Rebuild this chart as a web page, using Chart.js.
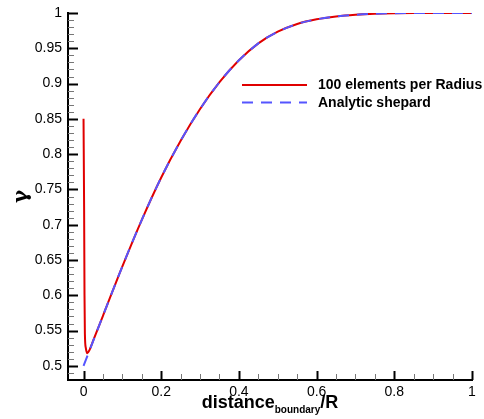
<!DOCTYPE html>
<html>
<head>
<meta charset="utf-8">
<script src="https://cdn.jsdelivr.net/npm/chart.js@4.4.0/dist/chart.umd.min.js"></script>
<style>
  html, body { margin: 0; padding: 0; background: #fff; }
  #wrap { width: 484px; height: 419px; }
</style>
</head>
<body>
<div id="wrap"><canvas id="myChart" width="484" height="419"></canvas></div>
<script>
// values
var seriesNames = ["100 elements per Radius", "Analytic shepard"];

var xValues = [0, 0.05, 0.1, 0.15, 0.2, 0.25, 0.3, 0.35, 0.4, 0.45, 0.5,
  0.55, 0.6, 0.65, 0.7, 0.75, 0.8, 0.85, 0.9, 1.0];
var analyticY = [0.500, 0.571, 0.641, 0.707, 0.767, 0.819, 0.864, 0.902, 0.933, 0.957, 0.9735,
  0.9845, 0.991, 0.995, 0.9975, 0.999, 0.9997, 1.0, 1.0, 1.0];

var redX = [0, 0.0015, 0.0025, 0.0035, 0.006, 0.0095, 0.015, 0.025, 0.05, 0.1, 0.15, 0.2, 0.25, 0.3,
  0.35, 0.4, 0.45, 0.5, 0.55, 0.6, 0.65, 0.7, 0.75, 0.8, 0.85, 0.9, 1.0];
var redY = [0.85, 0.72, 0.60, 0.545, 0.525, 0.518, 0.522, 0.536, 0.571, 0.641, 0.707, 0.767, 0.819, 0.864,
  0.902, 0.933, 0.957, 0.9735, 0.9845, 0.991, 0.995, 0.9975, 0.999, 0.9997, 1.0, 1.0, 1.0];

var xTicks = [0, 0.2, 0.4, 0.6, 0.8, 1];
var yTicks = [0.5, 0.55, 0.6, 0.65, 0.7, 0.75, 0.8, 0.85, 0.9, 0.95, 1];

var redColor = "#e00000";
var blueColor = "#5555ff";

function toPoints(xs, ys) {
  return xs.map(function (x, i) { return { x: x, y: ys[i] }; });
}

// inward major/minor ticks, legend and x title with subscript
var decorations = {
  id: "decorations",
  afterDraw: function (chart) {
    var ctx = chart.ctx;
    var xs = chart.scales.x, ys = chart.scales.y;
    var left = chart.chartArea.left, bottom = chart.chartArea.bottom;
    ctx.save();

    // y ticks
    for (var i = 49; i <= 100; i++) {
      var py = Math.round(ys.getPixelForValue(i / 100)) + 0.5;
      var major = i % 5 === 0;
      ctx.lineWidth = major ? 2 : 1;
      ctx.strokeStyle = major ? "#000" : "#777";
      ctx.beginPath();
      ctx.moveTo(left, py);
      ctx.lineTo(left + (major ? 10 : 6), py);
      ctx.stroke();
    }
    // x ticks
    for (var j = 0; j <= 20; j++) {
      var px = Math.round(xs.getPixelForValue(j / 20)) + 0.5;
      var majorX = j % 4 === 0;
      ctx.lineWidth = majorX ? 2 : 1;
      ctx.strokeStyle = majorX ? "#000" : "#777";
      ctx.beginPath();
      ctx.moveTo(px, bottom);
      ctx.lineTo(px, bottom - (majorX ? 9 : 6));
      ctx.stroke();
    }

    // legend
    var legendY = [85, 102.5];
    chart.data.datasets.forEach(function (ds) {
      var ly = legendY[ds.legendIndex];
      ctx.strokeStyle = ds.borderColor;
      ctx.lineWidth = 2;
      ctx.setLineDash(ds.borderDash || []);
      ctx.beginPath();
      ctx.moveTo(242, ly);
      ctx.lineTo(307, ly);
      ctx.stroke();
      ctx.setLineDash([]);
      ctx.fillStyle = "#000";
      ctx.font = "bold 14px 'Liberation Sans', Arial, sans-serif";
      ctx.textAlign = "left";
      ctx.textBaseline = "middle";
      ctx.fillText(ds.label, 318, ly + 0.5);
    });

    // x axis title with subscript
    var mainFont = "bold 18px 'Liberation Sans', Arial, sans-serif";
    var subFont = "bold 10px 'Liberation Sans', Arial, sans-serif";
    ctx.textBaseline = "alphabetic";
    ctx.textAlign = "left";
    ctx.font = mainFont;
    var w1 = ctx.measureText("distance").width;
    var w3 = ctx.measureText("/R").width;
    ctx.font = subFont;
    var w2 = ctx.measureText("boundary").width;
    var cx = (chart.chartArea.left + chart.chartArea.right) / 2;
    var sx = cx - (w1 + w2 + w3) / 2;
    var base = 408;
    ctx.fillStyle = "#000";
    ctx.font = mainFont;
    ctx.fillText("distance", sx, base);
    ctx.font = subFont;
    ctx.fillText("boundary", sx + w1, base + 5);
    ctx.font = mainFont;
    ctx.fillText("/R", sx + w1 + w2, base);
    ctx.restore();
  }
};

new Chart("myChart", {
  type: "line",
  data: {
    datasets: [{
      label: seriesNames[0],
      legendIndex: 0,
      data: toPoints(redX, redY),
      borderColor: redColor,
      borderWidth: 2,
      pointRadius: 0,
      cubicInterpolationMode: "monotone",
      fill: false,
      order: 1
    }, {
      label: seriesNames[1],
      legendIndex: 1,
      data: toPoints(xValues, analyticY),
      borderColor: blueColor,
      borderWidth: 2,
      borderDash: [11, 8],
      pointRadius: 0,
      cubicInterpolationMode: "monotone",
      fill: false,
      order: 0
    }]
  },
  options: {
    responsive: false,
    animation: false,
    layout: { padding: { top: 11, right: 12, left: 0, bottom: 0 } },
    plugins: {
      legend: { display: false },
      tooltip: { enabled: false }
    },
    scales: {
      x: {
        type: "linear",
        min: -0.04,
        max: 1,
        afterBuildTicks: function (scale) {
          scale.ticks = xTicks.map(function (v) { return { value: v }; });
        },
        afterFit: function (scale) { scale.height = 39; },
        grid: { display: false, drawTicks: false },
        border: { display: true, color: "#000", width: 2 },
        ticks: {
          color: "#000",
          padding: 4,
          maxRotation: 0,
          font: { family: "'Liberation Sans', Arial, sans-serif", size: 14 },
          callback: function (v) { return String(v); }
        }
      },
      y: {
        type: "linear",
        min: 0.48,
        max: 1,
        afterBuildTicks: function (scale) {
          scale.ticks = yTicks.map(function (v) { return { value: v }; });
        },
        afterFit: function (scale) { scale.width = 68; },
        grid: { display: false, drawTicks: false },
        border: { display: true, color: "#000", width: 2 },
        title: {
          display: true,
          text: "γ",
          color: "#000",
          padding: { top: 10, bottom: 0 },
          font: { family: "'DejaVu Serif', serif", size: 20, weight: "bold" }
        },
        ticks: {
          color: "#000",
          padding: 6,
          font: { family: "'Liberation Sans', Arial, sans-serif", size: 14, lineHeight: 1 },
          callback: function (v) { return String(v); }
        }
      }
    }
  },
  plugins: [decorations]
});
</script>
</body>
</html>
